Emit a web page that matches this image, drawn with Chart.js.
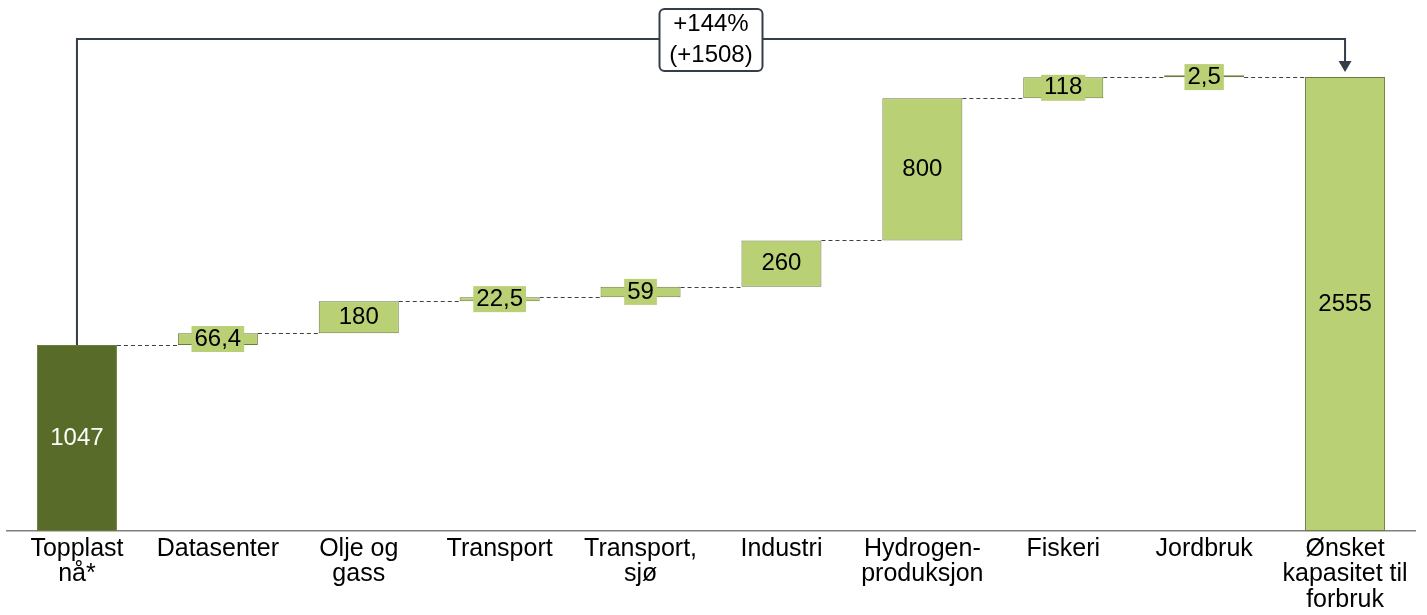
<!DOCTYPE html>
<html>
<head>
<meta charset="utf-8">
<script src="https://cdn.jsdelivr.net/npm/chart.js@4.4.1/dist/chart.umd.min.js"></script>
<style>
    html, body { margin: 0; padding: 0; background: #ffffff; }
    #wrap { width: 1427px; height: 615px; position: relative; }
</style>
</head>
<body>
<div id="wrap"><canvas id="waterfall"></canvas></div>
<script>
// Categories and values
const CATEGORIES = [
    ['Topplast', 'nå*'], 'Datasenter', ['Olje og', 'gass'], 'Transport', ['Transport,', 'sjø'],
    'Industri', ['Hydrogen-', 'produksjon'], 'Fiskeri', 'Jordbruk', ['Ønsket', 'kapasitet til', 'forbruk']
];
const START_VALUE = 1047;
const STEP_VALUES = [66.4, 180, 22.5, 59, 260, 800, 118, 2.5];
const TOTAL_VALUE = 2555;
const Y_MAX = 2988;

const DARK_GREEN = '#586b29';
const LIGHT_GREEN = '#b9d074';
const EDGE = '#6b7b3a';
const SLATE = '#353d4b';
const FONT = "'Liberation Sans', Arial, sans-serif";

// floating bar ranges built from the values
const ranges = [[0, START_VALUE]];
const labels = [START_VALUE];
let running = START_VALUE;
STEP_VALUES.forEach(v => { ranges.push([running, running + v]); labels.push(v); running += v; });
ranges.push([0, TOTAL_VALUE]);
labels.push(TOTAL_VALUE);

const fillColors = ranges.map((r, i) => i === 0 ? DARK_GREEN : LIGHT_GREEN);
const fmt = v => String(v).replace('.', ',');

const waterfallDecor = {
    id: 'waterfallDecor',
    afterDatasetsDraw(chart) {
        const ctx = chart.ctx;
        const y = chart.scales.y;
        const bars = chart.getDatasetMeta(0).data;

        // dashed connectors between bars
        ctx.save();
        ctx.strokeStyle = '#404040';
        ctx.lineWidth = 1;
        ctx.setLineDash([4, 3]);
        for (let i = 0; i < bars.length - 1; i++) {
            const level = Math.round(y.getPixelForValue(ranges[i][1])) + 0.5;
            ctx.beginPath();
            ctx.moveTo(bars[i].x + bars[i].width / 2, level);
            ctx.lineTo(bars[i + 1].x - bars[i + 1].width / 2, level);
            ctx.stroke();
        }
        ctx.restore();

        // value labels with a box in the bar colour
        ctx.save();
        ctx.font = `24px ${FONT}`;
        ctx.textAlign = 'center';
        ctx.textBaseline = 'middle';
        bars.forEach((bar, i) => {
            const txt = fmt(labels[i]);
            const cy = (y.getPixelForValue(ranges[i][0]) + y.getPixelForValue(ranges[i][1])) / 2;
            const w = ctx.measureText(txt).width + 6;
            ctx.fillStyle = fillColors[i];
            ctx.fillRect(bar.x - w / 2, cy - 13, w, 26);
            ctx.fillStyle = i === 0 ? '#ffffff' : '#000000';
            ctx.fillText(txt, bar.x, cy);
        });
        ctx.restore();

        // bracket from first to last bar with change label
        const first = bars[0], last = bars[bars.length - 1];
        const topFirst = y.getPixelForValue(START_VALUE);
        const topLast = y.getPixelForValue(TOTAL_VALUE);
        const bracketY = topLast - 38;
        const tipY = topLast - 5;
        ctx.save();
        ctx.strokeStyle = SLATE;
        ctx.fillStyle = SLATE;
        ctx.lineWidth = 2;
        ctx.beginPath();
        ctx.moveTo(first.x, topFirst);
        ctx.lineTo(first.x, bracketY);
        ctx.lineTo(last.x, bracketY);
        ctx.lineTo(last.x, tipY - 9);
        ctx.stroke();
        ctx.beginPath();
        ctx.moveTo(last.x - 6.5, tipY - 11);
        ctx.lineTo(last.x + 6.5, tipY - 11);
        ctx.lineTo(last.x, tipY);
        ctx.closePath();
        ctx.fill();

        const midX = (first.x + last.x) / 2;
        const boxW = 103, boxH = 62;
        ctx.beginPath();
        ctx.roundRect(midX - boxW / 2, bracketY - boxH / 2 + 1, boxW, boxH, 5);
        ctx.fillStyle = '#ffffff';
        ctx.fill();
        ctx.stroke();

        const diff = TOTAL_VALUE - START_VALUE;
        const pct = Math.round(diff / START_VALUE * 100);
        ctx.fillStyle = '#000000';
        ctx.font = `24px ${FONT}`;
        ctx.textAlign = 'center';
        ctx.textBaseline = 'middle';
        ctx.fillText(`+${pct}%`, midX, bracketY - 15);
        ctx.fillText(`(+${diff})`, midX, bracketY + 16);
        ctx.restore();
    }
};

new Chart(document.getElementById('waterfall'), {
    type: 'bar',
    data: {
        labels: CATEGORIES,
        datasets: [{
            data: ranges,
            backgroundColor: fillColors,
            borderColor: EDGE,
            borderWidth: 1,
            borderSkipped: false,
            minBarLength: 2,
            barPercentage: 0.568,
            categoryPercentage: 1
        }]
    },
    options: {
        responsive: true,
        maintainAspectRatio: false,
        animation: false,
        layout: { padding: { left: 6.5, right: 11.5, top: 0, bottom: 0 } },
        plugins: { legend: { display: false }, tooltip: { enabled: false } },
        scales: {
            x: {
                grid: { display: false, drawTicks: false },
                border: { display: true, color: '#7f7f7f', width: 1.5 },
                ticks: { color: '#000000', padding: 5, maxRotation: 0, autoSkip: false,
                    font: { family: FONT, size: 25, lineHeight: 1.02 } },
                afterFit: scale => { scale.height = 84; }
            },
            y: { display: false, min: 0, max: Y_MAX }
        }
    },
    plugins: [waterfallDecor]
});
</script>
</body>
</html>
